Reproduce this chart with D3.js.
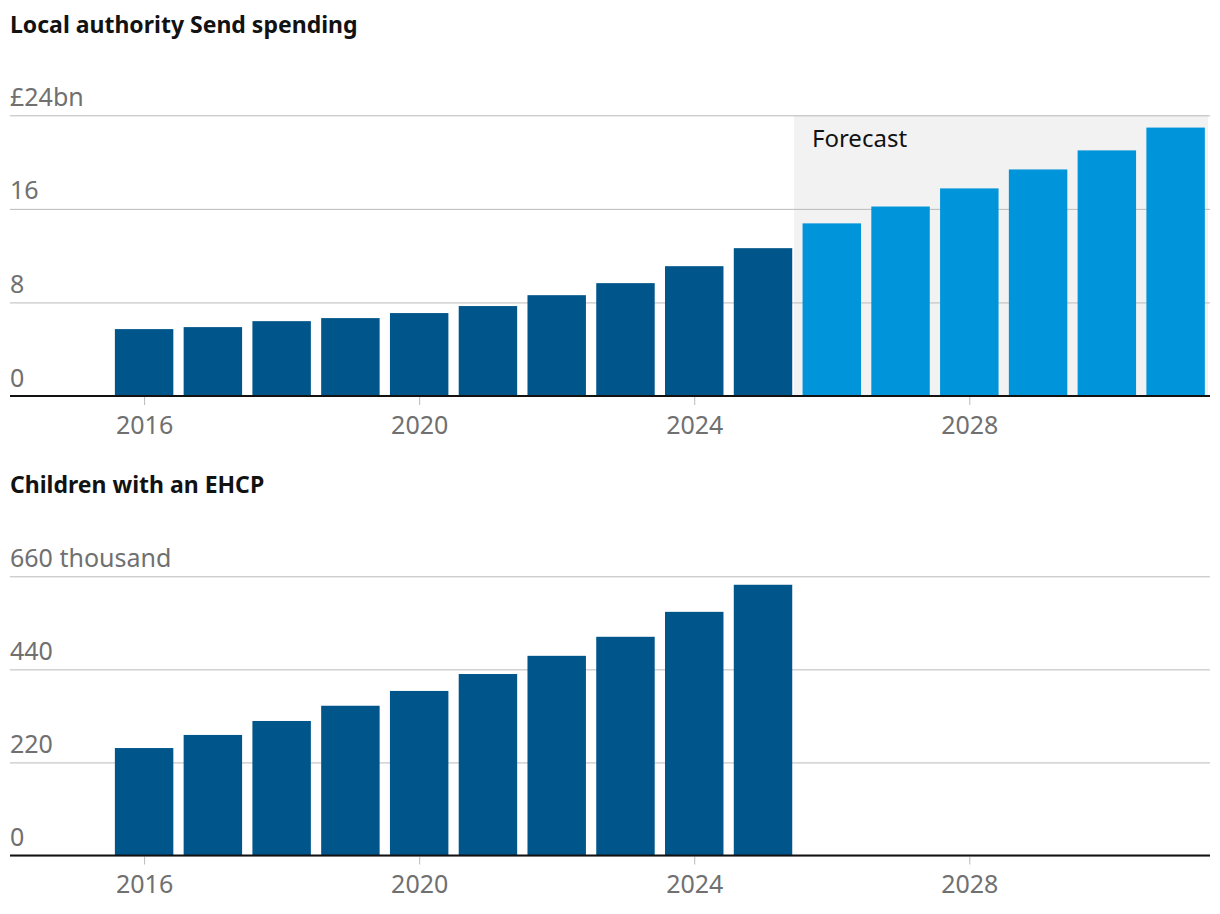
<!DOCTYPE html>
<html>
<head>
<meta charset="utf-8">
<script src="https://cdn.jsdelivr.net/npm/d3@7"></script>
<style>
  body { margin: 0; background: #fff; }
  text { font-family: "Noto Sans", Lato, sans-serif; }
</style>
</head>
<body>
<div id="chart"></div>
<script>
// spending, £bn (2026 onwards is forecast)
var spendYears = [2016, 2017, 2018, 2019, 2020, 2021, 2022, 2023, 2024, 2025,
                  2026, 2027, 2028, 2029, 2030, 2031];
var spending = [5.72, 5.89, 6.4, 6.66, 7.09, 7.69, 8.62, 9.65, 11.1, 12.64,
                14.76, 16.2, 17.75, 19.37, 21.0, 22.95];
var firstForecastYear = 2026;

// children with an EHCP, thousands
var ehcpYears = [2016, 2017, 2018, 2019, 2020, 2021, 2022, 2023, 2024, 2025];
var ehcp = [254, 285, 318, 354, 389, 429, 472, 517, 576, 640];

var spendTicks = [0, 8, 16, 24];
var ehcpTicks = [0, 220, 440, 660];
var yearTicks = [2016, 2020, 2024, 2028];

var width = 1220, height = 914;
var left = 10, right = 1210;
var font = '"Noto Sans", Lato, sans-serif';

var svg = d3.select('#chart').append('svg')
    .attr('width', width).attr('height', height);

var x = d3.scaleLinear()
    .domain([2014.05, 2031.5])
    .range([left, right]);
var barW = (x(2017) - x(2016)) * 0.85;

function panel(opts) {
  var g = svg.append('g');
  var y = d3.scaleLinear().domain(opts.domain).range([opts.bottom, opts.top]);

  g.append('text')
      .attr('x', left).attr('y', opts.titleY)
      .style('font-size', '23px').style('font-weight', 'bold')
      .style('fill', '#121212')
      .text(opts.title);

  if (opts.shadeFrom) {
    g.append('rect')
        .attr('x', x(opts.shadeFrom))
        .attr('y', y(opts.domain[1]))
        .attr('width', x(2031.47) - x(opts.shadeFrom))
        .attr('height', y(0) - y(opts.domain[1]))
        .style('fill', '#f2f2f2');
    g.append('text')
        .attr('x', x(opts.shadeFrom) + 18).attr('y', y(opts.domain[1]) + 32)
        .style('font-size', '24px').style('fill', '#121212')
        .text('Forecast');
  }

  var yAxis = d3.axisRight(y)
      .tickValues(opts.ticks)
      .tickSize(right - left)
      .tickFormat(opts.fmt);
  var ya = g.append('g')
      .attr('transform', 'translate(' + left + ',0)')
      .call(yAxis);
  ya.select('.domain').remove();
  ya.selectAll('line').style('stroke', '#bababa');
  ya.selectAll('text')
      .attr('x', 0).attr('dy', 0).attr('y', -10)
      .style('text-anchor', 'start')
      .style('font-size', '25px')
      .style('font-family', font)
      .style('fill', '#707070');

  g.selectAll('rect.bar')
      .data(opts.years)
      .enter()
      .append('rect')
      .attr('class', 'bar')
      .attr('x', function(d) { return x(d) - barW / 2; })
      .attr('y', function(d, i) { return y(opts.values[i]); })
      .attr('width', barW)
      .attr('height', function(d, i) { return y(0) - y(opts.values[i]); })
      .style('fill', function(d) {
        return d >= firstForecastYear ? '#0094da' : '#00558a';
      });

  var xAxis = d3.axisBottom(x)
      .tickValues(yearTicks)
      .tickSize(8)
      .tickPadding(11)
      .tickFormat(d3.format('d'));
  var xa = g.append('g')
      .attr('transform', 'translate(0,' + (y(0) + 1) + ')')
      .call(xAxis);
  xa.select('.domain').remove();
  xa.selectAll('line').style('stroke', '#bababa');
  xa.selectAll('text')
      .style('font-size', '25px')
      .style('font-family', font)
      .style('fill', '#707070');

  g.append('line')
      .attr('x1', left).attr('x2', right)
      .attr('y1', y(0)).attr('y2', y(0))
      .style('stroke', '#121212').style('stroke-width', 2);
}

panel({
  title: 'Local authority Send spending',
  titleY: 33,
  top: 115.3, bottom: 396,
  domain: [0, 24],
  ticks: spendTicks,
  fmt: function(d) { return d === 24 ? '£24bn' : d; },
  years: spendYears,
  values: spending,
  shadeFrom: 2025.45
});

panel({
  title: 'Children with an EHCP',
  titleY: 493,
  top: 576.3, bottom: 855.5,
  domain: [0, 660],
  ticks: ehcpTicks,
  fmt: function(d) { return d === 660 ? '660 thousand' : d; },
  years: ehcpYears,
  values: ehcp
});
</script>
</body>
</html>
